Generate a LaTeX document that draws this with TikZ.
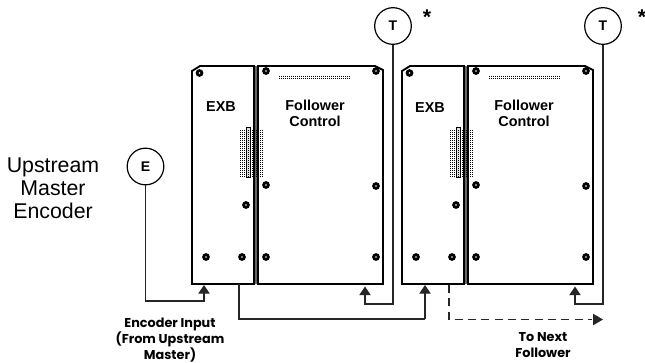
\documentclass[tikz,border=0pt]{standalone}
\usepackage{fontspec}
\setmainfont{Liberation Sans}
\newfontfamily\geofont{Poppins}
\usetikzlibrary{arrows.meta}
\newcommand{\geosetup}{\geofont\bfseries\fontsize{9.6}{11}\selectfont\lineskiplimit=-8pt\relax}
\tikzset{
  x=0.75pt,y=-0.75pt,
  wire/.style={line width=0.9pt,draw=black!85},
  flow/.style={wire,-{Triangle[length=6.5pt,width=8.5pt]}},
  panel/.style={line width=1.4pt,draw=black},
  ring/.style={circle,draw,line width=0.9pt,minimum size=27.5pt,inner sep=0pt,font=\bfseries\fontsize{10.5}{10.5}\selectfont},
  boldlabel/.style={font=\bfseries\fontsize{10.8}{12}\selectfont,align=center,inner sep=0pt},
  geolabel/.style={align=center,inner sep=0pt},
  plainlabel/.style={font=\fontsize{16}{17.25}\selectfont,align=center,inner sep=0pt},
  star/.style={font=\bfseries\fontsize{16}{16}\selectfont,inner sep=0pt}
}
\newcommand{\screw}[2]{\fill (#1,#2) circle (3.9);\fill[white] (#1,#2) circle (0.9);}
\newcommand{\unit}[1]{%
  \begin{scope}[shift={(#1,0)}]
    \draw[panel] (192,284) -- (192,71) -- (200,66) -- (254,66) -- (254,284) -- cycle;
    \draw[panel] (258,66) -- (375,66) -- (383,70) -- (383,284) -- (258,284) -- cycle;
    \draw[line width=1pt,draw=black!60] (256,66) -- (256,284);
    \screw{199.5}{73}\screw{266}{71}\screw{376}{71}
    \screw{266}{185}\screw{376}{186}
    \screw{246}{205}
    \screw{206}{257}\screw{242}{257}\screw{266}{257}\screw{376}{257}
    \foreach \i in {0,...,35}{
      \fill ({279+\i*2},76) rectangle ++(1.4,1.2);
      \fill ({279+\i*2},78.2) rectangle ++(1.4,1.2);
    }
    \draw[line width=0.5pt,fill=black!12] (246,127) rectangle (250,177);
    \foreach \r in {0,...,23}{
      \foreach \c in {0,...,11}{
        \fill ({239.5+\c*2},{129.5+\r*2}) rectangle ++(1.5,1.3);
      }
    }
  \end{scope}}
\begin{document}
\begin{tikzpicture}
\useasboundingbox (0,0) rectangle (645,362);
\unit{0}
\unit{210}
\coordinate (exbOneIn) at (204,285);
\coordinate (exbOneOut) at (239,284);
\coordinate (fcOneIn) at (365,286.5);
\coordinate (exbTwoIn) at (425,285);
\coordinate (exbTwoOut) at (449,285);
\coordinate (fcTwoIn) at (575,286.5);
\coordinate (nextEnd) at (603,319.5);
\node[ring] (E) at (145.5,166.5) {E};
\node[ring] (T1) at (393,26) {T};
\node[ring] (T2) at (603,26) {T};
\node[star] (s1) at (427,17) {*};
\node[star] (s2) at (642,17) {*};
\node[boldlabel] (x1) at (221,107) {EXB};
\node[boldlabel] (x2) at (430,108) {EXB};
\node[boldlabel] (f1) at (315,113) {Follower\\Control};
\node[boldlabel] (f2) at (524,113) {Follower\\Control};
\node[plainlabel] (up) at (53,188) {Upstream\\Master\\Encoder};
\node[geolabel] (inlab) at (170,340) {\geosetup Encoder Input\\\geosetup (From Upstream\\\geosetup Master)};
\node[geolabel] (nxt) at (543,345.5) {\geosetup To Next\\\geosetup Follower};
\draw[flow] (E.south) |- (204,301) -- (exbOneIn);
\draw[wire] (exbOneOut) -- (239,319) -- (425,319);
\draw[flow] (425,319) -- (exbTwoIn);
\draw[flow] (T1.south) -- (393,304) -- (365,304) -- (fcOneIn);
\draw[flow] (T2.south) -- (603,304) -- (575,304) -- (fcTwoIn);
\draw[wire,dash pattern=on 6pt off 4pt] (exbTwoOut) -- (449,319.5) -- (592,319.5);
\draw[-{Triangle[length=7.5pt,width=8.5pt]},wire] (593,319.5) -- (nextEnd);
\end{tikzpicture}
\end{document}
